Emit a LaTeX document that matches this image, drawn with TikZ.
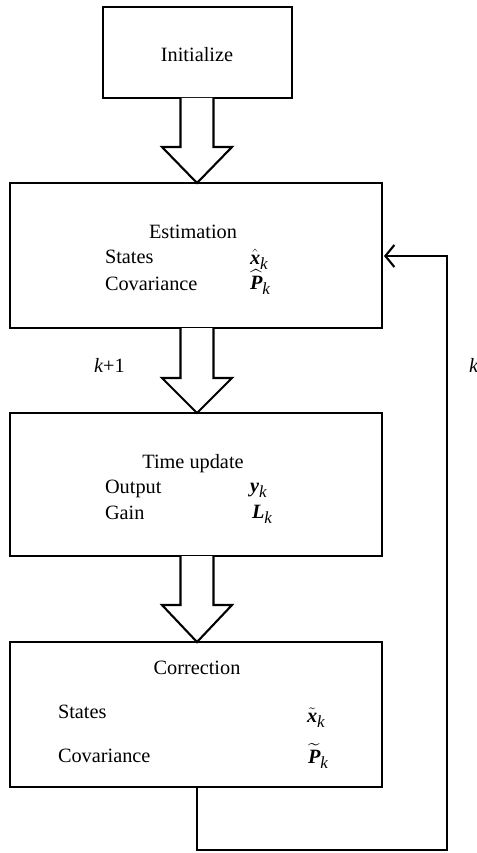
\documentclass[tikz,border=0pt]{standalone}
\usepackage{amsmath}
\usepackage{fontspec}
\setmainfont{Liberation Serif}
\usetikzlibrary{calc,arrows.meta}
\newcommand{\bvar}[1]{\text{\bfseries\itshape #1}}
\newcommand{\subk}{\raisebox{-5pt}{\fontsize{17}{17}\selectfont\itshape k}}
\begin{document}
\begin{tikzpicture}[x=1pt,y=-1pt,line width=2.1pt,
  box/.style={draw,rectangle,line width=2.1pt},
  txt/.style={font=\fontsize{20.3}{22}\selectfont,inner sep=0pt},
  blockarrow/.style={draw,line width=2.1pt,fill=white,line join=miter}]
\useasboundingbox (0,0) rectangle (476,853);
% boxes
\draw[box] (103,7) rectangle (292,98);
\coordinate (initS) at (197,98);
\draw[box] (10,183) rectangle (382,328);
\coordinate (estN) at (197,183);
\coordinate (estS) at (197,328);
\coordinate (estE) at (382,256);
\draw[box] (10,413) rectangle (382,556);
\coordinate (tuN) at (197,413);
\coordinate (tuS) at (197,556);
\draw[box] (10,642) rectangle (382,787);
\coordinate (coN) at (197,642);
\coordinate (coS) at (197,787);
% texts
\node[txt,anchor=base] (tInit) at (197,62) {Initialize};
\node[txt,anchor=base] (tEst) at (193,238) {Estimation};
\node[txt,anchor=base west] (tEs1) at (104,263) {States};
\node[txt,anchor=base west] (tEs2) at (104,290) {Covariance};
\node[txt,anchor=base west] (mEs1) at (249,264) {$\hat{\bvar{x}}$\subk};
\node[txt,anchor=base west] (mEs2) at (249,289) {$\widehat{\bvar{P}}$\subk};
\node[txt,anchor=base] (tTu) at (193,468) {Time update};
\node[txt,anchor=base west] (tTu1) at (104,493) {Output};
\node[txt,anchor=base west] (tTu2) at (104,519) {Gain};
\node[txt,anchor=base west] (mTu1) at (249,492) {\bvar{y}\subk};
\node[txt,anchor=base west] (mTu2) at (251,518) {\bvar{L}\subk};
\node[txt,anchor=base] (tCo) at (197,674) {Correction};
\node[txt,anchor=base west] (tCo1) at (57,718) {States};
\node[txt,anchor=base west] (tCo2) at (57,762) {Covariance};
\node[txt,anchor=base west] (mCo1) at (306,722) {$\tilde{\bvar{x}}$\subk};
\node[txt,anchor=base west] (mCo2) at (307,763) {$\widetilde{\bvar{P}}$\subk};
\node[txt,anchor=base west] (kp1) at (93,372) {\itshape k\upshape+1};
\node[txt,anchor=base west] (kr) at (468,372) {\itshape k};
% block arrows
\foreach \s/\e/\d in {initS/estN/49, estS/tuN/50, tuS/coN/49}{
  \draw[blockarrow] ($(\s)+(-16.5,0)$) -- ($(\s)+(-16.5,\d)$) -- ($(\s)+(-35,\d)$) -- (\e)
     -- ($(\s)+(35,\d)$) -- ($(\s)+(16.5,\d)$) -- ($(\s)+(16.5,0)$);
}
% feedback
\coordinate (c1) at (197,850);
\coordinate (c2) at (447,850);
\coordinate (c3) at (447,256);
\draw[line width=2.1pt,line join=miter,-{Straight Barb[length=9pt,width=22pt,line width=2.1pt]}] (coS) -- (c1) -- (c2) -- (c3) -- ($(estE)+(2,0)$);
\end{tikzpicture}
\end{document}
